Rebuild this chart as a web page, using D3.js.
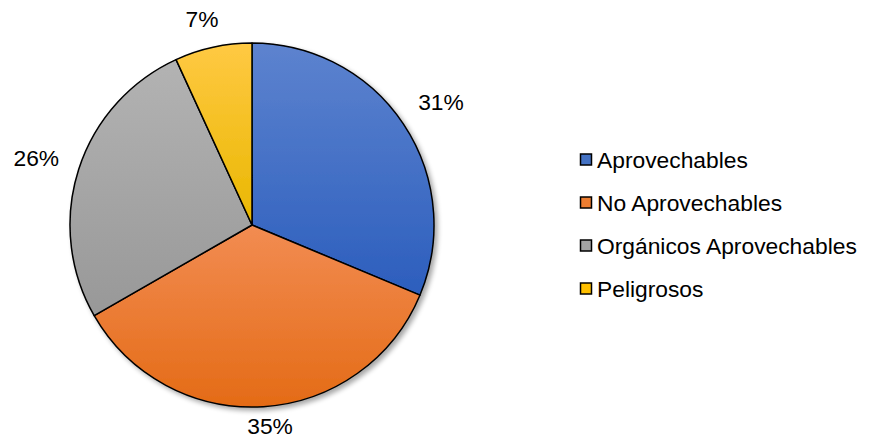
<!DOCTYPE html>
<html>
<head>
<meta charset="utf-8">
<script src="https://cdn.jsdelivr.net/npm/d3@7"></script>
<style>
  body { margin: 0; background: #fff; }
  text { font-family: "Liberation Sans", Arial, sans-serif; fill: #000; }
</style>
</head>
<body>
<div id="chart"></div>
<script>
// data
const categories = ["Aprovechables", "No Aprovechables", "Orgánicos Aprovechables", "Peligrosos"];
const values = [31.3, 35.4, 26.45, 6.85];
const labels = ["31%", "35%", "26%", "7%"];
const colorTop = ["#5d83cf", "#f28c52", "#b3b3b3", "#ffc943"];
const colorBottom = ["#2c5ebd", "#e46b16", "#989898", "#e9b700"];
const legendColors = ["#4472c4", "#ed7d31", "#a5a5a5", "#ffc000"];

const width = 872, height = 440;
const cx = 252, cy = 225, R = 182;
const fontSize = 22.8;

const svg = d3.select("#chart").append("svg")
  .attr("width", width)
  .attr("height", height);

const defs = svg.append("defs");

// soft shadow under the pie
const shadow = defs.append("filter")
  .attr("id", "shadow")
  .attr("x", "-10%").attr("y", "-10%")
  .attr("width", "130%").attr("height", "130%");
shadow.append("feGaussianBlur").attr("in", "SourceAlpha").attr("stdDeviation", 2.5);
shadow.append("feOffset").attr("dx", 3).attr("dy", 3).attr("result", "off");
shadow.append("feComponentTransfer").append("feFuncA").attr("type", "linear").attr("slope", 0.35);
const merge = shadow.append("feMerge");
merge.append("feMergeNode");
merge.append("feMergeNode").attr("in", "SourceGraphic");

categories.forEach((c, i) => {
  const g = defs.append("linearGradient")
    .attr("id", "grad" + i)
    .attr("x1", 0).attr("y1", 0).attr("x2", 0).attr("y2", 1);
  g.append("stop").attr("offset", "0%").attr("stop-color", colorTop[i]);
  g.append("stop").attr("offset", "100%").attr("stop-color", colorBottom[i]);
});

const pie = d3.pie().sort(null).value(d => d);
const arcs = pie(values);
const arc = d3.arc().innerRadius(0).outerRadius(R);

const pieG = svg.append("g")
  .attr("transform", "translate(" + cx + "," + cy + ")");

pieG.append("g")
  .attr("filter", "url(#shadow)")
  .selectAll("path")
  .data(arcs)
  .enter().append("path")
  .attr("d", arc)
  .attr("fill", (d, i) => "url(#grad" + i + ")")
  .attr("stroke", "#000")
  .attr("stroke-width", 1.5)
  .attr("stroke-linejoin", "round");

// outside end labels, box pushed out along the mid angle
const gap = 13, hw = 24, hh = 11, nudge = 5;
function labelPos(d) {
  const a = (d.startAngle + d.endAngle) / 2;
  const ux = Math.sin(a), uy = -Math.cos(a);
  const r = R + gap + Math.abs(ux) * hw + Math.abs(uy) * hh;
  // keep the label inside the picture
  const y = Math.min(uy * r, height - cy - 14);
  return [ux * r + Math.sign(ux) * nudge, y];
}

pieG.selectAll("text.lbl")
  .data(arcs)
  .enter().append("text")
  .attr("class", "lbl")
  .attr("font-size", fontSize)
  .attr("text-anchor", "middle")
  .attr("dominant-baseline", "central")
  .attr("x", d => labelPos(d)[0])
  .attr("y", d => labelPos(d)[1])
  .text((d, i) => labels[i]);

// legend
const legend = svg.append("g").attr("transform", "translate(580,159)");
const rows = legend.selectAll("g")
  .data(categories)
  .enter().append("g")
  .attr("transform", (d, i) => "translate(0," + (i * 43) + ")");

rows.append("rect")
  .attr("x", 0.5).attr("y", -5)
  .attr("width", 11).attr("height", 11)
  .attr("fill", (d, i) => legendColors[i])
  .attr("stroke", "#000")
  .attr("stroke-width", 1.5);

rows.append("text")
  .attr("x", 17)
  .attr("y", 1)
  .attr("font-size", fontSize)
  .attr("dominant-baseline", "central")
  .text(d => d);
</script>
</body>
</html>
